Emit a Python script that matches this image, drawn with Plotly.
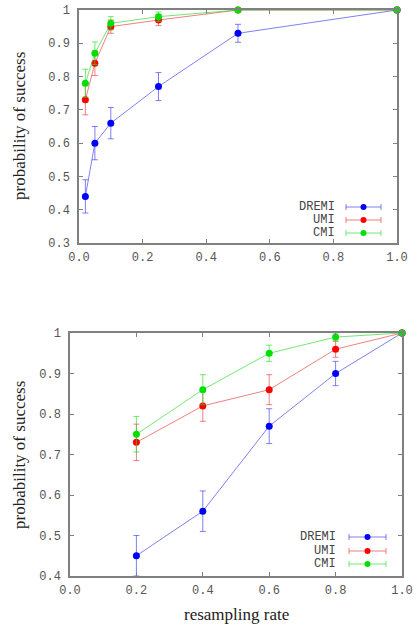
import plotly.graph_objects as go

# ---------------- data ----------------
series_names = ["DREMI", "UMI", "CMI"]

top_x = [0.02, 0.05, 0.1, 0.25, 0.5, 1.0]
top_dremi = [0.44, 0.60, 0.66, 0.77, 0.93, 1.0]
top_dremi_err = [0.05, 0.05, 0.047, 0.042, 0.027, 0.0]
top_umi = [0.73, 0.84, 0.95, 0.97, 1.0, 1.0]
top_umi_err = [0.045, 0.037, 0.02, 0.017, 0.0, 0.0]
top_cmi = [0.78, 0.87, 0.96, 0.98, 1.0, 1.0]
top_cmi_err = [0.042, 0.034, 0.02, 0.014, 0.0, 0.0]

bot_x = [0.2, 0.4, 0.6, 0.8, 1.0]
bot_dremi = [0.45, 0.56, 0.77, 0.90, 1.0]
bot_dremi_err = [0.05, 0.05, 0.043, 0.03, 0.0]
bot_umi = [0.73, 0.82, 0.86, 0.96, 1.0]
bot_umi_err = [0.045, 0.038, 0.037, 0.02, 0.0]
bot_cmi = [0.75, 0.86, 0.95, 0.99, 1.0]
bot_cmi_err = [0.044, 0.037, 0.02, 0.01, 0.0]

x_tickvals = [0.0, 0.2, 0.4, 0.6, 0.8, 1.0]
x_ticktext = ["0.0", "0.2", "0.4", "0.6", "0.8", "1.0"]
top_y_tickvals = [0.3, 0.4, 0.5, 0.6, 0.7, 0.8, 0.9, 1.0]
top_y_ticktext = ["0.3", "0.4", "0.5", "0.6", "0.7", "0.8", "0.9", "1"]
bot_y_tickvals = [0.4, 0.5, 0.6, 0.7, 0.8, 0.9, 1.0]
bot_y_ticktext = ["0.4", "0.5", "0.6", "0.7", "0.8", "0.9", "1"]

y_title = "probability of success"
x_title = "resampling rate"

# ---------------- style ----------------
W, H = 420, 628
marker_colors = ["#0000ff", "#ff0000", "#00e000"]
line_colors = ["rgba(60,60,235,0.65)", "rgba(235,60,60,0.65)", "rgba(40,220,40,0.65)"]
MONO = "Liberation Mono, Courier New, monospace"
SERIF = "Liberation Serif, DejaVu Serif, serif"
TICK_COLOR = "#555555"
AXIS_COLOR = "#808080"


def px(x):
    return x / W


def py(y):
    return 1 - y / H


fig = go.Figure()

top_sets = [(top_dremi, top_dremi_err), (top_umi, top_umi_err), (top_cmi, top_cmi_err)]
bot_sets = [(bot_dremi, bot_dremi_err), (bot_umi, bot_umi_err), (bot_cmi, bot_cmi_err)]

for (xs, sets, xa, ya) in [(top_x, top_sets, "x", "y"), (bot_x, bot_sets, "x2", "y2")]:
    for i, (vals, errs) in enumerate(sets):
        fig.add_trace(go.Scatter(
            x=xs, y=vals, mode="lines+markers", name=series_names[i],
            xaxis=xa, yaxis=ya, showlegend=False, cliponaxis=False,
            line=dict(color=line_colors[i], width=1),
            marker=dict(color=marker_colors[i], size=7),
            error_y=dict(type="data", array=errs, visible=True,
                         color=line_colors[i], thickness=1, width=3),
        ))

axis_common = dict(
    showline=True, linecolor=AXIS_COLOR, linewidth=1.5, mirror="ticks",
    ticks="inside", ticklen=4, tickcolor=AXIS_COLOR, tickwidth=1,
    showgrid=False, zeroline=False, automargin=False,
    tickfont=dict(family=MONO, size=12, color=TICK_COLOR),
)

fig.update_layout(
    width=W, height=H, autosize=False,
    margin=dict(l=0, r=0, t=0, b=0, pad=0),
    paper_bgcolor="white", plot_bgcolor="white",
    xaxis=dict(domain=[px(79), px(397)], range=[0, 1], anchor="y",
               tickvals=x_tickvals, ticktext=x_ticktext, ticklabelstandoff=2, **axis_common),
    yaxis=dict(domain=[py(243), py(10)], range=[0.3, 1], anchor="x",
               tickvals=top_y_tickvals, ticktext=top_y_ticktext, ticklabelstandoff=5, **axis_common),
    xaxis2=dict(domain=[px(70), px(402)], range=[0, 1], anchor="y2",
                tickvals=x_tickvals, ticktext=x_ticktext, ticklabelstandoff=2, **axis_common),
    yaxis2=dict(domain=[py(576), py(333)], range=[0.4, 1], anchor="x2",
                tickvals=bot_y_tickvals, ticktext=bot_y_ticktext, ticklabelstandoff=5, **axis_common),
    showlegend=False,
)

annotations = []
shapes = []

# axis titles
annotations.append(dict(x=px(19), y=py(126), xref="paper", yref="paper",
                        xanchor="center", yanchor="middle",
                        text=y_title, textangle=-90, showarrow=False,
                        font=dict(family=SERIF, size=17, color="#222222")))
annotations.append(dict(x=px(19), y=py(455), xref="paper", yref="paper",
                        xanchor="center", yanchor="middle",
                        text=y_title, textangle=-90, showarrow=False,
                        font=dict(family=SERIF, size=17, color="#222222")))
annotations.append(dict(x=px(236), y=py(614), xref="paper", yref="paper",
                        xanchor="center", yanchor="middle",
                        text=x_title, showarrow=False,
                        font=dict(family=SERIF, size=17, color="#222222")))

# gnuplot-style key (text then sample)
def add_key(text_right, ys, x0, x1):
    xm = (x0 + x1) / 2
    for i, yy in enumerate(ys):
        annotations.append(dict(x=px(text_right), y=py(yy), xref="paper", yref="paper",
                                text=series_names[i], showarrow=False,
                                xanchor="right", yanchor="middle",
                                font=dict(family=MONO, size=12, color="#444444")))
        shapes.append(dict(type="line", xref="paper", yref="paper",
                           x0=px(x0), x1=px(x1), y0=py(yy), y1=py(yy),
                           line=dict(color=line_colors[i], width=1)))
        for xe in (x0, x1):
            shapes.append(dict(type="line", xref="paper", yref="paper",
                               x0=px(xe), x1=px(xe), y0=py(yy - 3), y1=py(yy + 3),
                               line=dict(color=line_colors[i], width=1)))
        shapes.append(dict(type="circle", xref="paper", yref="paper",
                           x0=px(xm - 3), x1=px(xm + 3), y0=py(yy + 3), y1=py(yy - 3),
                           fillcolor=marker_colors[i], line=dict(width=0)))

add_key(337, [207, 220, 233], 346, 381)
add_key(338, [537, 551, 564], 349, 386)

fig.update_layout(annotations=annotations, shapes=shapes)
fig.write_html("out.html")
